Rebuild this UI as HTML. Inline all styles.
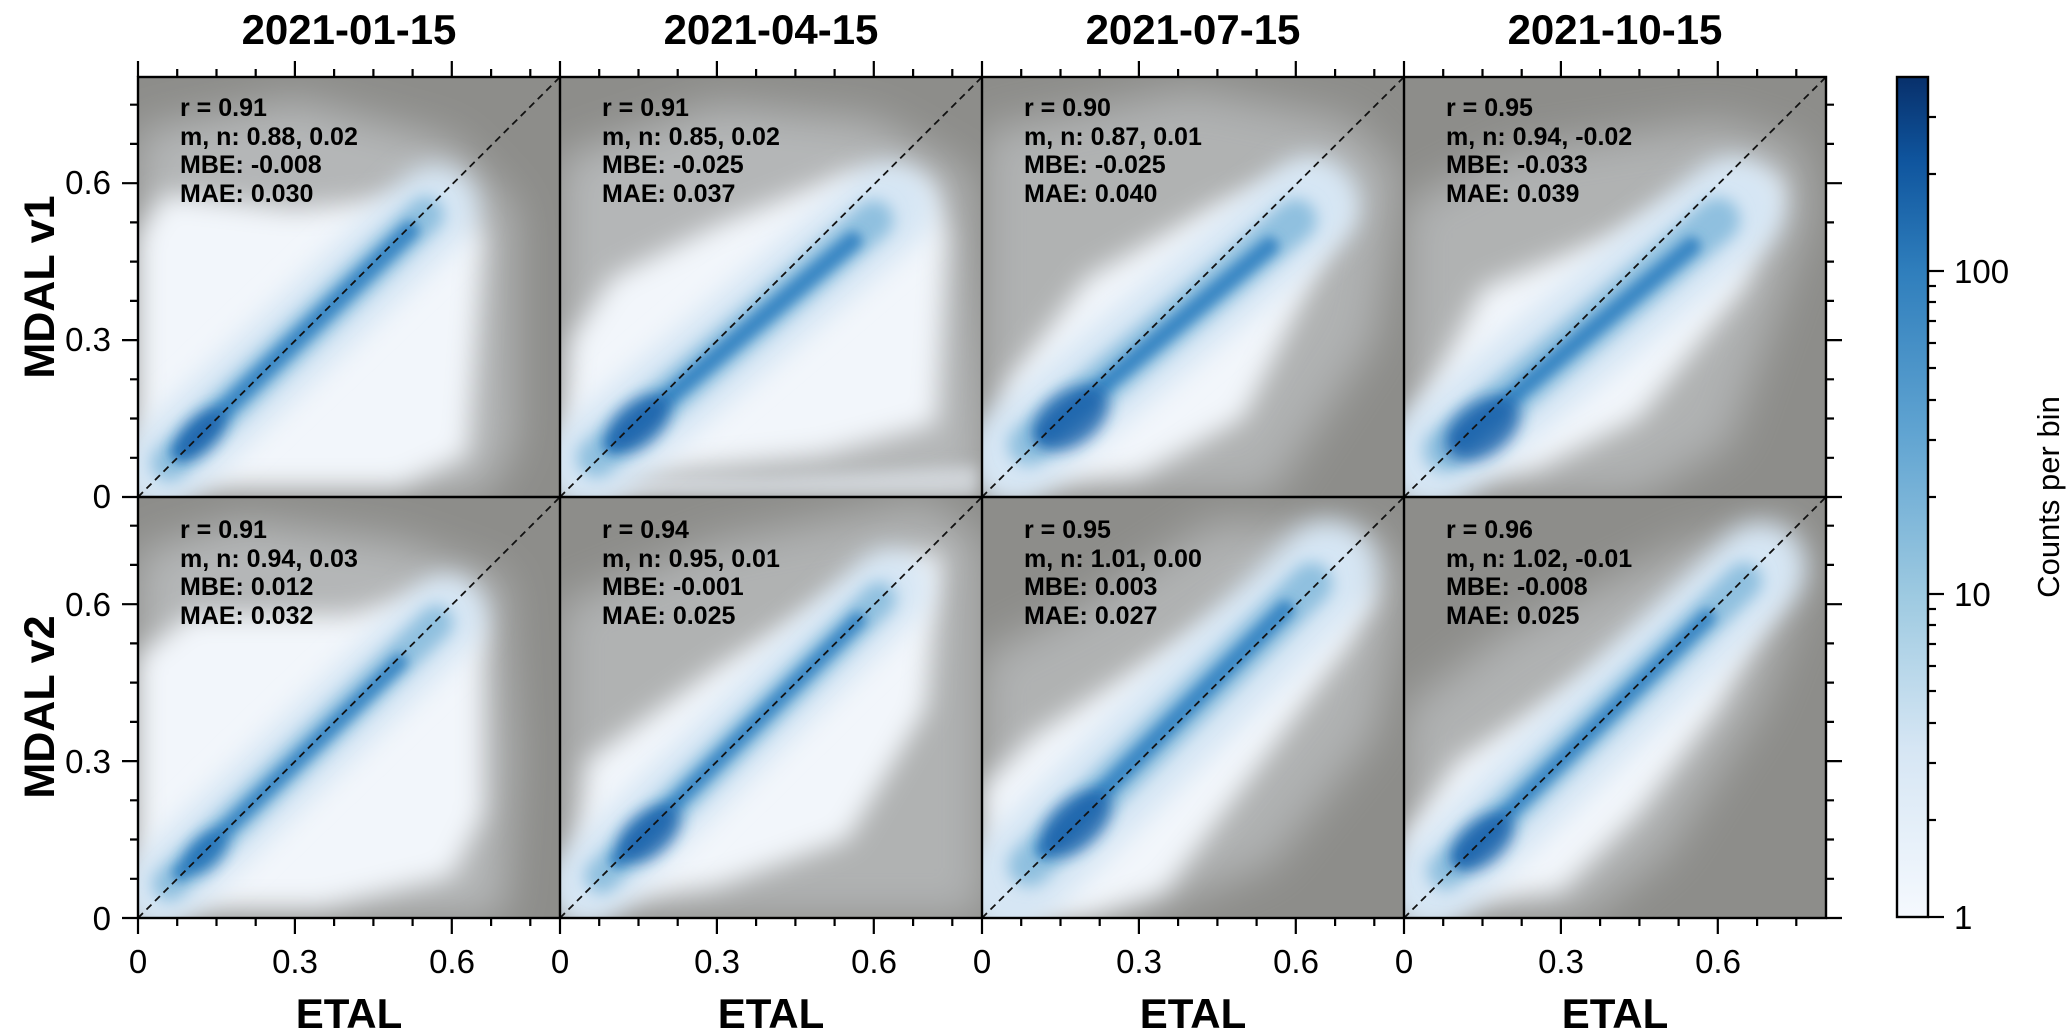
<!DOCTYPE html>
<html><head><meta charset="utf-8"><style>
html,body{margin:0;padding:0;background:#fff;}
svg{display:block;font-family:"Liberation Sans",Arial,sans-serif;}
</style></head><body>
<svg width="2068" height="1033" viewBox="0 0 2068 1033" xmlns="http://www.w3.org/2000/svg">
<defs>
<filter id="b1" x="-50%" y="-50%" width="200%" height="200%"><feGaussianBlur stdDeviation="0.025"/></filter>
<filter id="b2" x="-50%" y="-50%" width="200%" height="200%"><feGaussianBlur stdDeviation="0.015"/></filter>
<filter id="b3" x="-50%" y="-50%" width="200%" height="200%"><feGaussianBlur stdDeviation="0.01"/></filter>
<filter id="b5" x="-50%" y="-50%" width="200%" height="200%"><feGaussianBlur stdDeviation="0.04"/></filter>
<clipPath id="cp"><rect x="0" y="0" width="0.807" height="0.805"/></clipPath>
<linearGradient id="cb" x1="0" y1="1" x2="0" y2="0">
<stop offset="0" stop-color="#f5f9fe"/>
<stop offset="0.2" stop-color="#d6e6f4"/>
<stop offset="0.38" stop-color="#9ecae1"/>
<stop offset="0.58" stop-color="#5fa3d1"/>
<stop offset="0.77" stop-color="#2f7ebc"/>
<stop offset="0.9" stop-color="#0f559e"/>
<stop offset="1" stop-color="#08306b"/>
</linearGradient>
<path id="tk" d="M0 0v16M39.2 0v8M78.5 0v8M117.7 0v8M156.9 0v16M196.1 0v8M235.4 0v8M274.6 0v8M313.8 0v16M353.1 0v8M392.3 0v8" stroke="#000" stroke-width="2.2" fill="none"/>
<g id="bandA">
</g>
</defs>

<!-- P1 -->
<g transform="translate(138,497) scale(523,-523)"><g clip-path="url(#cp)">
<rect x="0" y="0" width="0.81" height="0.81" fill="#8d8d8a"/>
<polygon points="0,0 0.66,0 0.72,0.1 0.72,0.55 0.6,0.68 0.3,0.76 0,0.7" fill="#e4e9ef" opacity="0.45" filter="url(#b5)"/>
<polygon points="0,0.02 0.5,0.02 0.63,0.08 0.66,0.5 0.58,0.58 0.3,0.55 0.05,0.58 0,0.5" fill="#f2f6fb" filter="url(#b1)"/>
<line x1="0.04" y1="0.05" x2="0.57" y2="0.555" stroke="#d6e6f4" stroke-width="0.16" stroke-linecap="round" filter="url(#b1)"/>
<line x1="0.06" y1="0.065" x2="0.55" y2="0.54" stroke="#8fc0df" stroke-width="0.07" stroke-linecap="round" filter="url(#b2)"/>
<line x1="0.08" y1="0.085" x2="0.52" y2="0.51" stroke="#3a87c4" stroke-width="0.035" stroke-linecap="round" filter="url(#b3)"/>
<ellipse cx="0.12" cy="0.12" rx="0.06" ry="0.03" transform="rotate(45 0.12 0.12)" fill="#1c64ab" opacity="0.85" filter="url(#b2)"/>
</g></g>
<!-- P2 -->
<g transform="translate(560,497) scale(523,-523)"><g clip-path="url(#cp)">
<rect x="0" y="0" width="0.81" height="0.81" fill="#8d8d8a"/>
<polygon points="0,0 0.81,0 0.81,0.15 0.78,0.62 0.6,0.72 0.3,0.75 0,0.65" fill="#e4e9ef" opacity="0.45" filter="url(#b5)"/>
<polygon points="0,0.03 0.2,0.05 0.5,0.08 0.72,0.14 0.74,0.5 0.7,0.6 0.55,0.62 0.3,0.52 0.1,0.42 0.02,0.3" fill="#f2f6fb" filter="url(#b1)"/>
<polygon points="0.05,0 0.8,0 0.8,0.06 0.4,0.04 0.1,0.04" fill="#e9eff6" opacity="0.6" filter="url(#b2)"/>
<line x1="0.05" y1="0.06" x2="0.63" y2="0.555" stroke="#d6e6f4" stroke-width="0.17" stroke-linecap="round" filter="url(#b1)"/>
<line x1="0.07" y1="0.075" x2="0.6" y2="0.53" stroke="#8fc0df" stroke-width="0.075" stroke-linecap="round" filter="url(#b2)"/>
<line x1="0.1" y1="0.1" x2="0.56" y2="0.49" stroke="#3a87c4" stroke-width="0.035" stroke-linecap="round" filter="url(#b3)"/>
<ellipse cx="0.15" cy="0.14" rx="0.07" ry="0.04" transform="rotate(40 0.15 0.14)" fill="#1c64ab" opacity="0.85" filter="url(#b2)"/>
</g></g>
<!-- P3 -->
<g transform="translate(982,497) scale(523,-523)"><g clip-path="url(#cp)">
<rect x="0" y="0" width="0.81" height="0.81" fill="#8d8d8a"/>
<polygon points="0,0 0.55,0 0.75,0.3 0.8,0.62 0.7,0.72 0.4,0.78 0,0.7" fill="#e4e9ef" opacity="0.4" filter="url(#b5)"/>
<polygon points="0.02,0.02 0.3,0.04 0.5,0.15 0.6,0.35 0.7,0.55 0.63,0.63 0.45,0.56 0.2,0.42 0.05,0.22" fill="#f2f6fb" filter="url(#b1)"/>
<line x1="0.06" y1="0.08" x2="0.63" y2="0.56" stroke="#d6e6f4" stroke-width="0.18" stroke-linecap="round" filter="url(#b1)"/>
<line x1="0.09" y1="0.1" x2="0.6" y2="0.53" stroke="#8fc0df" stroke-width="0.08" stroke-linecap="round" filter="url(#b2)"/>
<line x1="0.12" y1="0.12" x2="0.55" y2="0.48" stroke="#3a87c4" stroke-width="0.035" stroke-linecap="round" filter="url(#b3)"/>
<ellipse cx="0.17" cy="0.15" rx="0.08" ry="0.05" transform="rotate(35 0.17 0.15)" fill="#1c64ab" opacity="0.85" filter="url(#b2)"/>
</g></g>
<!-- P4 -->
<g transform="translate(1404,497) scale(523,-523)"><g clip-path="url(#cp)">
<rect x="0" y="0" width="0.81" height="0.81" fill="#8d8d8a"/>
<polygon points="0,0 0.45,0 0.62,0.1 0.78,0.55 0.76,0.67 0.6,0.72 0.2,0.66 0,0.56" fill="#e4e9ef" opacity="0.4" filter="url(#b5)"/>
<polygon points="0.02,0.03 0.25,0.05 0.45,0.15 0.65,0.4 0.72,0.6 0.62,0.62 0.4,0.5 0.15,0.4 0.02,0.15" fill="#f2f6fb" filter="url(#b1)"/>
<line x1="0.05" y1="0.07" x2="0.63" y2="0.555" stroke="#d6e6f4" stroke-width="0.19" stroke-linecap="round" filter="url(#b1)"/>
<line x1="0.08" y1="0.09" x2="0.6" y2="0.53" stroke="#8fc0df" stroke-width="0.085" stroke-linecap="round" filter="url(#b2)"/>
<line x1="0.11" y1="0.11" x2="0.55" y2="0.48" stroke="#3a87c4" stroke-width="0.035" stroke-linecap="round" filter="url(#b3)"/>
<ellipse cx="0.15" cy="0.13" rx="0.08" ry="0.05" transform="rotate(35 0.15 0.13)" fill="#1c64ab" opacity="0.85" filter="url(#b2)"/>
</g></g>
<!-- P5 -->
<g transform="translate(138,918) scale(523,-523)"><g clip-path="url(#cp)">
<rect x="0" y="0" width="0.81" height="0.81" fill="#8d8d8a"/>
<polygon points="0,0 0.7,0 0.72,0.3 0.7,0.65 0.5,0.72 0.2,0.76 0,0.7" fill="#e4e9ef" opacity="0.45" filter="url(#b5)"/>
<polygon points="0,0.02 0.35,0.02 0.6,0.08 0.66,0.2 0.66,0.55 0.6,0.63 0.4,0.58 0.1,0.58 0,0.5" fill="#f2f6fb" filter="url(#b1)"/>
<line x1="0.04" y1="0.05" x2="0.59" y2="0.58" stroke="#d6e6f4" stroke-width="0.15" stroke-linecap="round" filter="url(#b1)"/>
<line x1="0.06" y1="0.065" x2="0.57" y2="0.565" stroke="#8fc0df" stroke-width="0.065" stroke-linecap="round" filter="url(#b2)"/>
<line x1="0.08" y1="0.085" x2="0.5" y2="0.49" stroke="#3a87c4" stroke-width="0.03" stroke-linecap="round" filter="url(#b3)"/>
<ellipse cx="0.13" cy="0.125" rx="0.05" ry="0.028" transform="rotate(45 0.13 0.125)" fill="#2171b5" opacity="0.8" filter="url(#b2)"/>
</g></g>
<!-- P6 -->
<g transform="translate(560,918) scale(523,-523)"><g clip-path="url(#cp)">
<rect x="0" y="0" width="0.81" height="0.81" fill="#8d8d8a"/>
<polygon points="0,0 0.81,0 0.81,0.72 0.7,0.8 0.3,0.72 0,0.6" fill="#e4e9ef" opacity="0.4" filter="url(#b5)"/>
<polygon points="0.02,0.02 0.3,0.06 0.55,0.15 0.7,0.4 0.73,0.7 0.63,0.68 0.3,0.48 0.05,0.3" fill="#f2f6fb" filter="url(#b1)"/>
<line x1="0.05" y1="0.06" x2="0.63" y2="0.63" stroke="#d6e6f4" stroke-width="0.15" stroke-linecap="round" filter="url(#b1)"/>
<line x1="0.08" y1="0.08" x2="0.61" y2="0.61" stroke="#8fc0df" stroke-width="0.065" stroke-linecap="round" filter="url(#b2)"/>
<line x1="0.11" y1="0.11" x2="0.57" y2="0.57" stroke="#3a87c4" stroke-width="0.03" stroke-linecap="round" filter="url(#b3)"/>
<ellipse cx="0.17" cy="0.16" rx="0.07" ry="0.04" transform="rotate(40 0.17 0.16)" fill="#1c64ab" opacity="0.85" filter="url(#b2)"/>
</g></g>
<!-- P7 -->
<g transform="translate(982,918) scale(523,-523)"><g clip-path="url(#cp)">
<rect x="0" y="0" width="0.81" height="0.81" fill="#8d8d8a"/>
<polygon points="0,0 0.3,0 0.55,0.1 0.75,0.35 0.81,0.65 0.75,0.74 0.45,0.76 0.2,0.6 0,0.5" fill="#e4e9ef" opacity="0.4" filter="url(#b5)"/>
<polygon points="0.02,0 0.2,0 0.35,0.05 0.5,0.25 0.7,0.52 0.75,0.62 0.65,0.68 0.5,0.6 0.3,0.48 0.1,0.35 0,0.25" fill="#f2f6fb" filter="url(#b1)"/>
<line x1="0.05" y1="0.06" x2="0.66" y2="0.665" stroke="#d6e6f4" stroke-width="0.19" stroke-linecap="round" filter="url(#b1)"/>
<line x1="0.09" y1="0.1" x2="0.63" y2="0.64" stroke="#8fc0df" stroke-width="0.08" stroke-linecap="round" filter="url(#b2)"/>
<line x1="0.12" y1="0.13" x2="0.58" y2="0.59" stroke="#3a87c4" stroke-width="0.035" stroke-linecap="round" filter="url(#b3)"/>
<ellipse cx="0.18" cy="0.18" rx="0.08" ry="0.045" transform="rotate(42 0.18 0.18)" fill="#1c64ab" opacity="0.85" filter="url(#b2)"/>
</g></g>
<!-- P8 -->
<g transform="translate(1404,918) scale(523,-523)"><g clip-path="url(#cp)">
<rect x="0" y="0" width="0.81" height="0.81" fill="#8d8d8a"/>
<polygon points="0,0 0.35,0 0.5,0.12 0.68,0.4 0.78,0.66 0.74,0.76 0.55,0.72 0.2,0.55 0,0.4" fill="#e4e9ef" opacity="0.4" filter="url(#b5)"/>
<polygon points="0.02,0.02 0.3,0.05 0.45,0.2 0.6,0.4 0.72,0.62 0.7,0.7 0.6,0.66 0.35,0.46 0.1,0.3 0,0.15" fill="#f2f6fb" filter="url(#b1)"/>
<line x1="0.05" y1="0.06" x2="0.68" y2="0.67" stroke="#d6e6f4" stroke-width="0.17" stroke-linecap="round" filter="url(#b1)"/>
<line x1="0.08" y1="0.09" x2="0.65" y2="0.645" stroke="#8fc0df" stroke-width="0.07" stroke-linecap="round" filter="url(#b2)"/>
<line x1="0.11" y1="0.115" x2="0.58" y2="0.575" stroke="#3a87c4" stroke-width="0.032" stroke-linecap="round" filter="url(#b3)"/>
<ellipse cx="0.15" cy="0.145" rx="0.07" ry="0.04" transform="rotate(40 0.15 0.145)" fill="#1c64ab" opacity="0.85" filter="url(#b2)"/>
</g></g>

<!-- dashed 1:1 lines -->
<g stroke="#111" stroke-width="1.8" stroke-dasharray="7 5" fill="none">
<line x1="138" y1="497" x2="560" y2="77"/>
<line x1="560" y1="497" x2="982" y2="77"/>
<line x1="982" y1="497" x2="1404" y2="77"/>
<line x1="1404" y1="497" x2="1826" y2="77"/>
<line x1="138" y1="918" x2="560" y2="497"/>
<line x1="560" y1="918" x2="982" y2="497"/>
<line x1="982" y1="918" x2="1404" y2="497"/>
<line x1="1404" y1="918" x2="1826" y2="497"/>
</g>

<!-- frames -->
<g stroke="#000" stroke-width="2.4" fill="none">
<rect x="138" y="77" width="1688" height="841"/>
<line x1="138" y1="497" x2="1826" y2="497"/>
<line x1="560" y1="77" x2="560" y2="918"/>
<line x1="982" y1="77" x2="982" y2="918"/>
<line x1="1404" y1="77" x2="1404" y2="918"/>
</g>

<!-- ticks -->
<use href="#tk" transform="translate(138,918)"/>
<use href="#tk" transform="translate(560,918)"/>
<use href="#tk" transform="translate(982,918)"/>
<use href="#tk" transform="translate(1404,918)"/>
<use href="#tk" transform="translate(138,77) scale(1,-1)"/>
<use href="#tk" transform="translate(560,77) scale(1,-1)"/>
<use href="#tk" transform="translate(982,77) scale(1,-1)"/>
<use href="#tk" transform="translate(1404,77) scale(1,-1)"/>
<use href="#tk" transform="translate(138,497) rotate(-90) scale(1,-1)"/>
<use href="#tk" transform="translate(138,918) rotate(-90) scale(1,-1)"/>
<use href="#tk" transform="translate(1826,497) rotate(-90)"/>
<use href="#tk" transform="translate(1826,918) rotate(-90)"/>

<!-- tick labels -->
<g font-size="33" fill="#000">
<g text-anchor="middle">
<text x="138" y="973">0</text><text x="295" y="973">0.3</text><text x="452" y="973">0.6</text>
<text x="560" y="973">0</text><text x="717" y="973">0.3</text><text x="874" y="973">0.6</text>
<text x="982" y="973">0</text><text x="1139" y="973">0.3</text><text x="1296" y="973">0.6</text>
<text x="1404" y="973">0</text><text x="1561" y="973">0.3</text><text x="1718" y="973">0.6</text>
</g>
<g text-anchor="end">
<text x="111" y="194">0.6</text><text x="111" y="351">0.3</text><text x="111" y="508">0</text>
<text x="111" y="616">0.6</text><text x="111" y="773">0.3</text><text x="111" y="930">0</text>
</g>
</g>

<!-- axis labels and titles -->
<g font-weight="bold" fill="#000" text-anchor="middle">
<g font-size="42">
<text x="349" y="44">2021-01-15</text>
<text x="771" y="44">2021-04-15</text>
<text x="1193" y="44">2021-07-15</text>
<text x="1615" y="44">2021-10-15</text>
<text x="349" y="1028">ETAL</text>
<text x="771" y="1028">ETAL</text>
<text x="1193" y="1028">ETAL</text>
<text x="1615" y="1028">ETAL</text>
</g>
<g font-size="43">
<text transform="translate(54,287) rotate(-90)">MDAL v1</text>
<text transform="translate(54,707) rotate(-90)">MDAL v2</text>
</g>
</g>

<!-- annotations -->
<g font-weight="bold" font-size="25" fill="#000">
<text x="180" y="116">r = 0.91</text><text x="180" y="145">m, n: 0.88, 0.02</text><text x="180" y="173">MBE: -0.008</text><text x="180" y="202">MAE: 0.030</text>
<text x="602" y="116">r = 0.91</text><text x="602" y="145">m, n: 0.85, 0.02</text><text x="602" y="173">MBE: -0.025</text><text x="602" y="202">MAE: 0.037</text>
<text x="1024" y="116">r = 0.90</text><text x="1024" y="145">m, n: 0.87, 0.01</text><text x="1024" y="173">MBE: -0.025</text><text x="1024" y="202">MAE: 0.040</text>
<text x="1446" y="116">r = 0.95</text><text x="1446" y="145">m, n: 0.94, -0.02</text><text x="1446" y="173">MBE: -0.033</text><text x="1446" y="202">MAE: 0.039</text>
<text x="180" y="538">r = 0.91</text><text x="180" y="567">m, n: 0.94, 0.03</text><text x="180" y="595">MBE: 0.012</text><text x="180" y="624">MAE: 0.032</text>
<text x="602" y="538">r = 0.94</text><text x="602" y="567">m, n: 0.95, 0.01</text><text x="602" y="595">MBE: -0.001</text><text x="602" y="624">MAE: 0.025</text>
<text x="1024" y="538">r = 0.95</text><text x="1024" y="567">m, n: 1.01, 0.00</text><text x="1024" y="595">MBE: 0.003</text><text x="1024" y="624">MAE: 0.027</text>
<text x="1446" y="538">r = 0.96</text><text x="1446" y="567">m, n: 1.02, -0.01</text><text x="1446" y="595">MBE: -0.008</text><text x="1446" y="624">MAE: 0.025</text>
</g>

<!-- colorbar -->
<rect x="1897" y="77" width="31" height="840" fill="url(#cb)" stroke="#000" stroke-width="2.4"/>
<g stroke="#000" stroke-width="2.2">
<line x1="1928" y1="917" x2="1944" y2="917"/>
<line x1="1928" y1="594" x2="1944" y2="594"/>
<line x1="1928" y1="271" x2="1944" y2="271"/>
<line x1="1928" y1="820" x2="1936" y2="820"/>
<line x1="1928" y1="763" x2="1936" y2="763"/>
<line x1="1928" y1="723" x2="1936" y2="723"/>
<line x1="1928" y1="691" x2="1936" y2="691"/>
<line x1="1928" y1="666" x2="1936" y2="666"/>
<line x1="1928" y1="644" x2="1936" y2="644"/>
<line x1="1928" y1="625" x2="1936" y2="625"/>
<line x1="1928" y1="609" x2="1936" y2="609"/>
<line x1="1928" y1="497" x2="1936" y2="497"/>
<line x1="1928" y1="440" x2="1936" y2="440"/>
<line x1="1928" y1="400" x2="1936" y2="400"/>
<line x1="1928" y1="368" x2="1936" y2="368"/>
<line x1="1928" y1="343" x2="1936" y2="343"/>
<line x1="1928" y1="321" x2="1936" y2="321"/>
<line x1="1928" y1="302" x2="1936" y2="302"/>
<line x1="1928" y1="286" x2="1936" y2="286"/>
<line x1="1928" y1="174" x2="1936" y2="174"/>
<line x1="1928" y1="117" x2="1936" y2="117"/>
</g>
<g font-size="33" fill="#000">
<text x="1954" y="929">1</text>
<text x="1954" y="606">10</text>
<text x="1954" y="283">100</text>
<text transform="translate(2059,497) rotate(-90)" text-anchor="middle" font-size="31">Counts per bin</text>
</g>
</svg>
</body></html>
